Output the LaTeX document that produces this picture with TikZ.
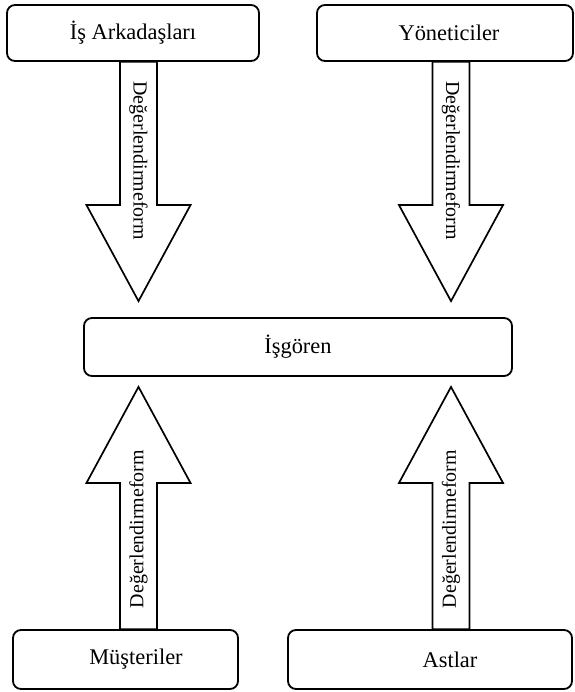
\documentclass[tikz,border=0pt]{standalone}
\usepackage{fontspec}
\setmainfont{Liberation Serif}
\usetikzlibrary{calc}
\tikzset{
  party/.style={draw, rounded corners=8bp, line width=1.8bp, inner sep=0pt,
    font=\fontsize{22.5}{27}\selectfont},
  formarrow/.style={draw, line width=1.7bp, line join=miter, fill=white},
  formtext/.style={font=\fontsize{20}{24}\selectfont, inner sep=0pt}
}
% block arrow from tail #1 to tip #2, label #3
\newcommand\evalarrow[3]{%
  \coordinate (hb) at ($(#2)!96bp!(#1)$);
  \draw[formarrow] ($(#1)!18.5bp!90:(#2)$) -- ($(hb)!18.5bp!90:(#2)$)
    -- ($(hb)!52bp!90:(#2)$) -- (#2) -- ($(hb)!52bp!-90:(#2)$)
    -- ($(hb)!18.5bp!-90:(#2)$) -- ($(#1)!18.5bp!-90:(#2)$) -- cycle;
  \path (#1) -- (#2) node[formtext, sloped, allow upside down, pos=0.413] {#3};
}
\begin{document}
\begin{tikzpicture}[x=1bp, y=-1bp]
  \useasboundingbox (0,0) rectangle (575,692);
  % the five parties
  \node[party, minimum width=252bp, minimum height=56bp] (coworkers) at (133,33) {İş Arkadaşları};
  \node[party, minimum width=256bp, minimum height=56bp] (managers) at (445,33) {\hspace*{8bp}Yöneticiler};
  \node[party, minimum width=428bp, minimum height=58bp] (employee) at (298,347) {İşgören};
  \node[party, minimum width=225bp, minimum height=59bp] (customers) at (125.5,659.5) {\hspace*{21bp}Müşteriler};
  \node[party, minimum width=284bp, minimum height=59bp] (subordinates) at (430,659.5) {\hspace*{40bp}Astlar};
  % columns of the arrows
  \coordinate (colL) at (138.5,0);
  \coordinate (colR) at (451,0);
  \coordinate (tailCW) at (coworkers.south -| colL);
  \coordinate (tipCW) at ($(employee.north -| colL)+(0,-16)$);
  \coordinate (tailMG) at (managers.south -| colR);
  \coordinate (tipMG) at ($(employee.north -| colR)+(0,-16)$);
  \coordinate (tailCU) at (customers.north -| colL);
  \coordinate (tipCU) at ($(employee.south -| colL)+(0,10)$);
  \coordinate (tailSB) at (subordinates.north -| colR);
  \coordinate (tipSB) at ($(employee.south -| colR)+(0,10)$);
  % evaluation forms
  \evalarrow{tailCW}{tipCW}{Değerlendirmeform}
  \evalarrow{tailMG}{tipMG}{Değerlendirmeform}
  \evalarrow{tailCU}{tipCU}{Değerlendirmeform}
  \evalarrow{tailSB}{tipSB}{Değerlendirmeform}
\end{tikzpicture}
\end{document}
